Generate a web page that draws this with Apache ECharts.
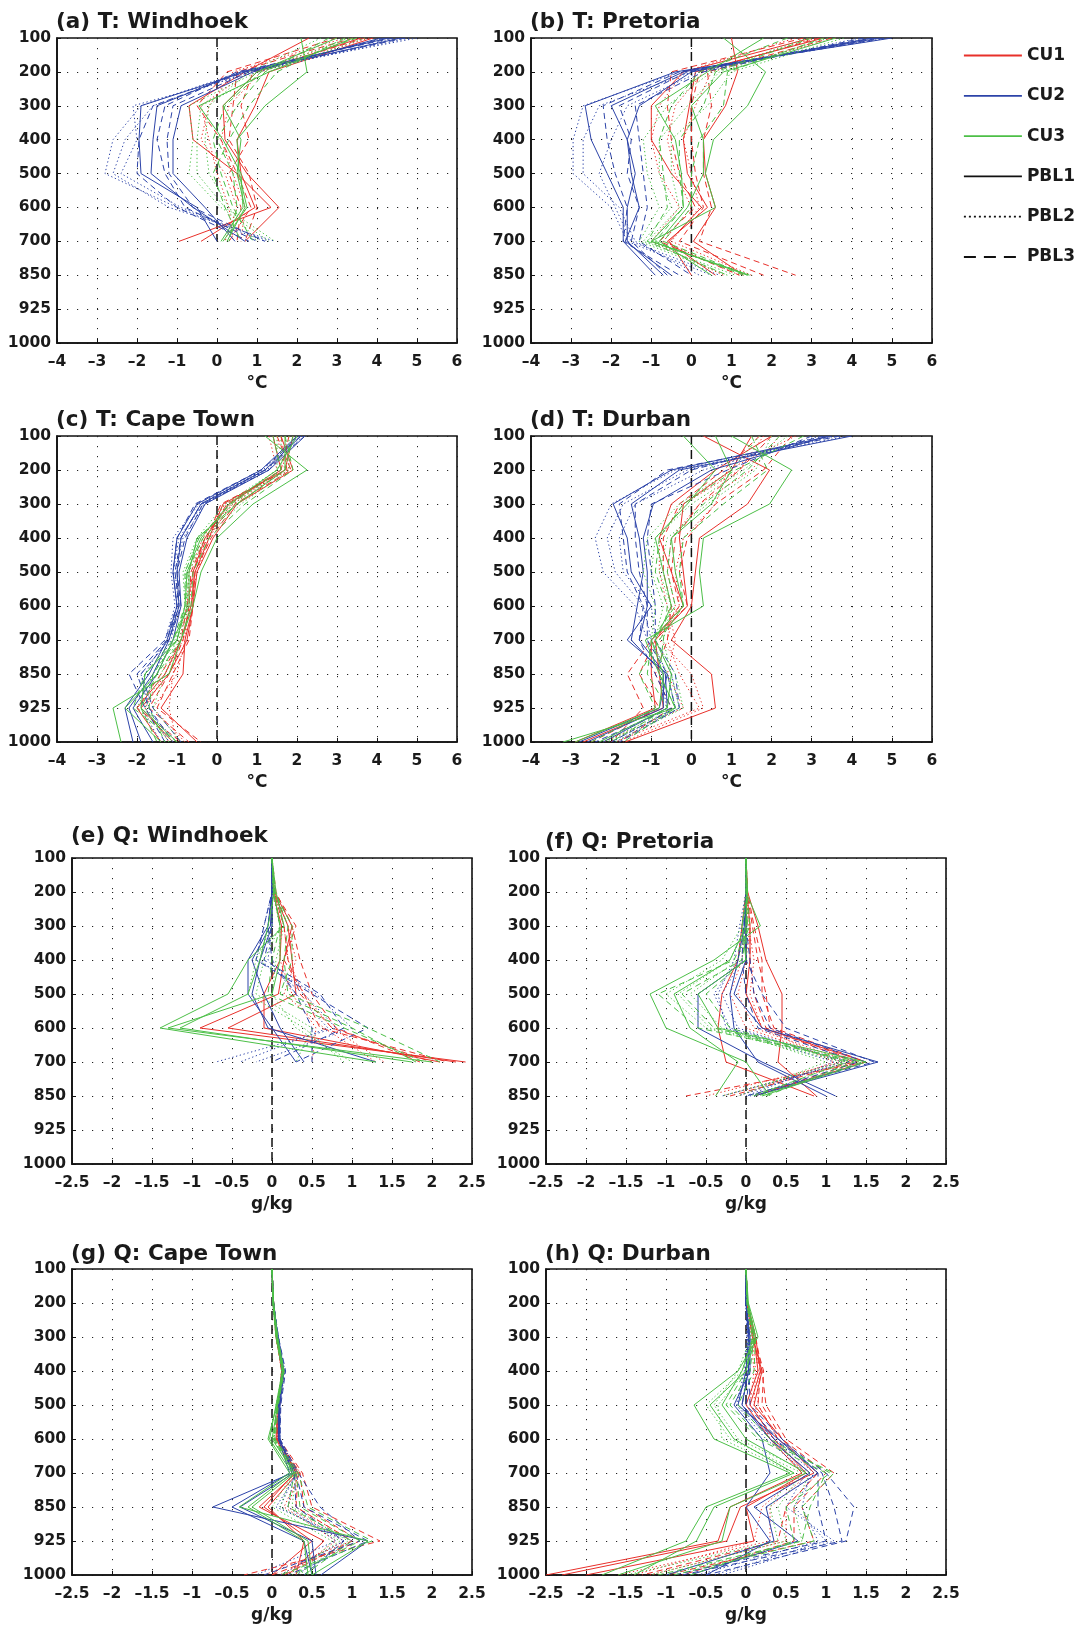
<!DOCTYPE html>
<html><head><meta charset="utf-8">
<script src="https://cdn.jsdelivr.net/npm/echarts@6/dist/echarts.min.js"></script>
<style>html,body{margin:0;padding:0;background:#fff}#chart{width:1081px;height:1627px}</style>
</head><body><div id="chart"></div>
<script>
// ---------------- DATA ----------------
// Pressure levels (hPa), top to bottom
const levels = ['100','200','300','400','500','600','700','850','925','1000'];
// x-axis tick setup
const tTicks = {min: -4, max: 6, step: 1};
const qTicks = {min: -2.5, max: 2.5, step: 0.5};
// Each array: rows = PBL1 x3, PBL2 x3, PBL3 x3 ; columns = levels (top-down)

// (a) T: Windhoek
const aCU1 = [
  [2.3, 0.7, -0.7, -0.6, 0.5, 1.35, -0.95],
  [3.6, 1.0, 0.15, 0.2, 0.75, 1.55, 0.7],
  [3.9, 1.3, 0.95, 0.5, 0.6, 0.95, -0.4],
  [3.2, 0.4, -0.2, -0.4, 0.2, 0.5, 0.2],
  [3.5, 0.8, -0.4, -0.2, 0.0, 0.3, 0.4],
  [3.8, 1.1, 0.3, 0.1, 0.4, 0.7, 0.6],
  [3.0, 0.25, -0.5, 0.1, 0.5, 0.85, 0.3],
  [3.4, 0.5, 0.4, 0.3, 0.8, 1.0, 0.7],
  [3.7, 0.9, 0.6, 0.8, 0.3, 0.6, 0.5]
];
const aCU2 = [
  [4.6, 0.7, -1.9, -1.95, -1.9, -0.5, 0.0],
  [4.3, 0.6, -1.5, -1.6, -1.65, -0.6, 0.7],
  [4.1, 0.9, -0.9, -1.1, -1.1, -0.3, 0.45],
  [5.0, 0.6, -1.9, -2.6, -2.8, -1.0, 1.2],
  [4.8, 0.8, -1.6, -2.3, -2.6, -1.2, 1.45],
  [4.5, 1.0, -2.1, -2.0, -2.4, -0.9, 1.3],
  [4.4, 0.5, -1.3, -1.5, -1.3, -0.8, 1.0],
  [4.2, 0.8, -1.1, -1.25, -1.2, -0.6, 1.2],
  [4.7, 0.7, -1.6, -1.95, -2.0, -1.0, 0.8]
];
const aCU3 = [
  [2.1, 2.25, 1.2, 0.5, 0.55, 0.75, 0.15],
  [3.0, 1.0, 0.15, 0.6, 0.5, 0.7, 0.25],
  [3.4, 1.3, -0.45, 0.15, 0.6, 0.65, 0.1],
  [3.3, 1.0, -0.7, -0.6, -0.7, 0.1, 1.3],
  [3.7, 1.3, -0.4, -0.5, -0.5, 0.2, 1.45],
  [2.6, 0.8, -0.2, -0.3, -0.2, 0.3, 1.0],
  [2.8, 1.2, 0.5, 0.0, 0.4, 0.5, 0.3],
  [3.2, 1.5, 0.8, 0.3, -0.1, 0.2, 0.6],
  [3.5, 1.1, 0.2, -0.1, 0.1, 0.4, 0.9]
];

// (b) T: Pretoria
const bCU1 = [
  [1.0, 1.15, 0.85, 0.3, 0.35, 0.6, 0.05, 1.3],
  [3.0, -0.2, -1.0, -1.0, -0.5, 0.25, -0.55, 0.0],
  [3.3, 0.1, -0.05, -0.2, -0.1, 0.4, -0.6, 0.6],
  [2.6, -0.2, -0.8, -1.0, -0.8, -0.3, -1.0, 0.8],
  [3.1, 0.3, -0.4, -0.6, -0.4, 0.0, -0.7, 1.2],
  [3.6, 0.5, 0.1, -0.2, 0.0, 0.2, -0.5, 1.5],
  [2.8, -0.5, -0.6, -0.5, -0.3, 0.1, -0.8, 1.2],
  [3.2, 0.2, 0.0, 0.0, 0.1, 0.3, -0.3, 1.8],
  [3.5, 0.4, 0.5, 0.3, 0.3, 0.5, 0.2, 2.6]
];
const bCU2 = [
  [5.0, -0.4, -2.65, -2.5, -2.1, -1.7, -1.7, -0.9],
  [4.7, -0.2, -2.0, -1.6, -1.5, -1.3, -1.65, -0.5],
  [4.5, 0.0, -1.3, -1.6, -1.4, -1.6, -1.6, -0.7],
  [4.9, -0.3, -2.7, -2.95, -2.95, -2.0, -1.6, 0.5],
  [4.5, 0.0, -2.3, -2.7, -2.7, -1.8, -1.4, 0.2],
  [4.2, 0.2, -1.6, -2.0, -2.3, -1.9, -1.5, 0.7],
  [4.6, -0.3, -2.2, -2.1, -1.9, -1.6, -1.7, -0.3],
  [4.8, -0.1, -1.8, -1.5, -1.6, -1.3, -1.5, -0.6],
  [4.3, 0.3, -1.4, -1.3, -1.2, -1.1, -1.3, 0.0]
];
const bCU3 = [
  [0.8, 1.85, 1.4, 0.55, 0.35, 0.6, -1.0, 1.45],
  [1.8, 0.4, -0.9, -0.4, -0.25, -0.2, -1.0, 1.4],
  [3.6, 0.8, 0.0, 0.3, 0.3, -0.1, -0.8, 0.5],
  [2.9, 0.5, -0.6, -1.2, -1.1, -0.8, -1.3, 0.9],
  [3.4, 0.7, -0.1, -0.8, -0.8, -0.5, -1.2, 1.1],
  [3.8, 1.0, 0.4, -0.5, -0.5, -0.3, -1.1, 1.5],
  [2.4, 0.2, -0.5, -0.8, -0.7, -0.6, -1.1, 0.9],
  [3.0, 0.6, 0.3, -0.3, -0.3, -0.2, -0.9, 1.3],
  [3.3, 0.9, 0.8, 0.2, 0.0, 0.0, -0.7, 1.4]
];

// (c) T: Cape Town
const cCU1 = [
  [1.6, 1.9, 0.5, -0.1, -0.5, -0.6, -0.8, -0.85, -1.4, -0.5],
  [1.4, 1.6, 0.3, -0.3, -0.6, -0.6, -0.75, -1.2, -1.9, -1.1],
  [1.9, 1.7, 0.15, -0.2, -0.55, -0.65, -0.9, -1.3, -2.0, -1.4],
  [1.5, 1.7, 0.4, -0.25, -0.6, -0.7, -0.8, -1.0, -1.6, -0.8],
  [1.7, 1.8, 0.2, -0.35, -0.7, -0.75, -0.95, -1.1, -1.2, -1.0],
  [1.3, 1.5, 0.35, -0.2, -0.5, -0.65, -0.85, -1.3, -1.8, -1.2],
  [1.5, 1.85, 0.45, -0.15, -0.55, -0.6, -0.7, -1.1, -1.5, -0.4],
  [1.8, 1.6, 0.25, -0.3, -0.65, -0.7, -0.85, -1.2, -1.7, -0.7],
  [1.6, 1.75, 0.1, -0.25, -0.6, -0.75, -0.9, -1.4, -2.0, -0.9]
];
const cCU2 = [
  [2.0, 1.1, -0.5, -1.0, -1.1, -1.0, -1.25, -1.7, -2.3, -2.1],
  [2.1, 1.2, -0.4, -0.9, -1.0, -0.95, -1.2, -1.6, -2.2, -1.9],
  [2.2, 1.3, -0.3, -0.75, -0.95, -0.9, -1.1, -1.5, -2.1, -1.6],
  [2.05, 1.15, -0.45, -1.1, -1.15, -1.05, -1.3, -1.8, -1.9, -1.4],
  [2.15, 1.25, -0.35, -0.95, -1.1, -1.0, -1.2, -1.9, -1.7, -1.2],
  [2.0, 1.2, -0.3, -0.85, -1.05, -0.95, -1.15, -1.6, -1.8, -1.0],
  [2.1, 1.1, -0.55, -1.0, -1.1, -1.0, -1.3, -2.2, -1.8, -1.3],
  [2.2, 1.2, -0.4, -0.9, -1.05, -0.95, -1.25, -2.0, -1.7, -1.1],
  [2.0, 1.3, -0.35, -0.8, -1.0, -0.9, -1.2, -1.9, -1.6, -0.9]
];
const cCU3 = [
  [1.2, 2.25, 0.9, 0.0, -0.4, -0.6, -0.9, -1.2, -2.6, -2.4],
  [1.7, 1.7, 0.5, -0.5, -0.7, -0.7, -1.1, -1.5, -2.3, -1.4],
  [2.0, 1.5, 0.3, -0.4, -0.75, -0.8, -1.0, -1.8, -1.9, -1.0],
  [1.6, 1.6, 0.4, -0.45, -0.8, -0.75, -1.0, -1.4, -1.8, -1.2],
  [1.8, 1.8, 0.6, -0.3, -0.7, -0.7, -0.95, -1.3, -1.6, -0.9],
  [1.5, 1.5, 0.2, -0.5, -0.85, -0.8, -1.05, -1.6, -2.0, -1.1],
  [1.7, 1.9, 0.7, -0.2, -0.6, -0.65, -0.9, -1.5, -1.9, -1.5],
  [1.9, 1.7, 0.5, -0.35, -0.75, -0.75, -1.0, -1.6, -1.7, -1.3],
  [1.4, 1.6, 0.35, -0.45, -0.8, -0.8, -1.1, -1.8, -2.1, -1.0]
];

// (d) T: Durban
const dCU1 = [
  [0.3, 1.95, 1.4, 0.2, 0.1, 0.0, -0.5, 0.5, 0.6, -1.65],
  [1.5, 1.0, -0.2, -0.3, -0.2, -0.1, -0.9, -0.8, -0.7, -2.7],
  [2.0, 0.6, -0.5, -0.8, -0.5, -0.2, -1.0, -1.0, -0.9, -2.9],
  [2.2, 1.5, 0.2, -0.5, -0.6, -0.4, -0.6, -0.3, 0.2, -1.9],
  [1.8, 1.2, -0.2, -0.8, -0.8, -0.6, -0.4, -0.6, -0.2, -2.2],
  [2.6, 0.9, 0.6, -0.2, -0.4, -0.3, -0.8, 0.0, 0.3, -1.7],
  [2.5, 1.8, 0.6, -0.1, -0.3, -0.1, -1.0, -1.6, -1.2, -2.0],
  [2.0, 1.2, 0.2, -0.4, -0.5, -0.3, -0.9, -1.3, -0.8, -2.5],
  [1.7, 0.8, -0.3, -0.7, -0.7, -0.5, -0.6, -0.9, -0.5, -1.8]
];
const dCU2 = [
  [3.5, -0.5, -1.95, -1.6, -1.5, -1.0, -1.6, -0.6, -0.8, -2.8],
  [4.0, -0.3, -1.5, -1.3, -1.2, -1.35, -1.5, -0.7, -0.7, -2.6],
  [3.4, 0.5, -0.95, -1.2, -1.1, -1.1, -1.3, -0.65, -0.6, -2.2],
  [3.9, -0.4, -2.0, -2.4, -2.2, -1.4, -1.1, -0.8, -0.6, -2.3],
  [3.6, -0.1, -1.7, -2.1, -1.9, -1.2, -1.0, -0.6, -0.4, -2.0],
  [3.2, 0.3, -1.4, -1.8, -1.7, -1.0, -0.9, -0.5, -0.3, -1.9],
  [3.7, -0.6, -1.8, -1.7, -1.6, -1.2, -1.3, -0.9, -0.5, -2.4],
  [3.3, 0.0, -1.4, -1.4, -1.3, -1.1, -1.1, -0.6, -0.4, -2.0],
  [3.0, 0.9, -1.0, -1.1, -1.0, -0.9, -0.9, -0.4, -0.3, -1.8]
];
const dCU3 = [
  [1.0, 2.5, 1.95, 0.3, 0.2, 0.3, -1.15, -0.8, -0.4, -3.2],
  [0.6, 1.0, 0.5, -0.5, -0.4, -0.2, -1.0, -0.7, -0.8, -2.9],
  [-0.2, 0.6, -0.1, -0.9, -0.7, -0.5, -0.9, -0.5, -0.6, -2.3],
  [2.0, 1.6, 0.4, -0.6, -0.8, -0.5, -0.7, -0.5, -0.3, -2.1],
  [2.4, 1.3, 0.0, -0.9, -1.0, -0.7, -0.9, -0.4, -0.2, -1.9],
  [1.7, 1.0, -0.3, -1.1, -1.2, -0.9, -1.0, -0.6, -0.4, -2.2],
  [1.5, 1.9, 0.8, -0.2, -0.3, -0.2, -0.8, -1.3, -0.9, -2.5],
  [2.2, 1.4, 0.3, -0.5, -0.6, -0.4, -1.0, -1.1, -0.6, -2.0],
  [2.8, 1.1, -0.2, -0.8, -0.9, -0.6, -0.7, -0.8, -0.4, -1.7]
];

// (e) Q: Windhoek
const eCU1 = [
  [0.0, 0.02, 0.2, 0.25, 0.3, -0.55, 2.3],
  [0.0, 0.03, 0.25, 0.15, 0.08, -0.9, 2.42],
  [0.0, 0.01, 0.12, 0.1, -0.1, -0.1, 2.1],
  [0.0, 0.02, 0.15, 0.2, 0.4, 0.75, 1.4],
  [0.0, 0.01, 0.1, 0.1, 0.25, 0.55, 0.5],
  [0.0, 0.03, 0.2, 0.3, 0.15, 0.65, 1.3],
  [0.0, 0.05, 0.25, 0.35, 0.5, 0.8, 1.85],
  [0.0, 0.02, 0.15, 0.2, 0.35, 0.75, 2.0],
  [0.0, 0.03, 0.3, 0.15, 0.4, 0.6, 2.2]
];
const eCU2 = [
  [0.0, 0.0, -0.05, -0.3, -0.3, 0.0, 0.3],
  [0.0, 0.0, -0.02, -0.25, -0.1, 0.1, 0.4],
  [0.0, 0.0, 0.0, -0.15, -0.25, -0.05, 1.3],
  [0.0, 0.0, -0.05, -0.15, 0.4, 0.8, -0.7],
  [0.0, 0.0, 0.0, -0.05, 0.3, 0.7, -0.4],
  [0.0, 0.0, -0.1, -0.2, 0.55, 1.0, -0.2],
  [0.0, 0.0, -0.1, -0.2, 0.5, 1.2, 0.3],
  [0.0, 0.0, 0.0, -0.1, 0.6, 0.9, 0.0],
  [0.0, 0.0, -0.05, 0.0, 0.3, 0.5, 0.5]
];
const eCU3 = [
  [0.0, 0.05, 0.15, -0.3, -0.55, -1.4, 1.3],
  [0.0, 0.03, -0.05, -0.15, -0.3, -1.15, 1.75],
  [0.0, 0.02, 0.1, 0.1, 0.0, -1.3, 2.0],
  [0.0, 0.02, 0.1, -0.1, -0.2, 0.5, 0.3],
  [0.0, 0.01, 0.0, -0.2, -0.3, 0.4, 0.9],
  [0.0, 0.03, 0.15, 0.05, 0.0, 0.3, 1.0],
  [0.0, 0.04, 0.2, 0.15, 0.2, 1.2, 2.1],
  [0.0, 0.02, 0.1, 0.0, -0.05, 0.9, 1.9],
  [0.0, 0.03, 0.25, 0.25, 0.1, 1.0, 1.8]
];

// (f) Q: Pretoria
const fCU1 = [
  [0.0, 0.02, 0.15, 0.25, 0.45, 0.45, 0.4, 0.88],
  [0.0, 0.0, -0.05, -0.1, -0.3, -0.35, -0.25, 0.85],
  [0.0, 0.01, 0.05, 0.05, 0.0, 0.2, 1.5, 0.1],
  [0.0, 0.0, 0.0, -0.05, -0.2, 0.0, 1.2, -0.5],
  [0.0, 0.01, 0.05, 0.0, -0.1, 0.1, 1.3, -0.3],
  [0.0, 0.0, 0.03, 0.1, 0.05, 0.2, 1.1, -0.1],
  [0.0, 0.02, 0.1, 0.2, 0.2, 0.35, 1.5, -0.75],
  [0.0, 0.01, 0.08, 0.15, 0.25, 0.3, 1.4, 0.1],
  [0.0, 0.0, 0.05, 0.05, 0.1, 0.25, 1.35, -0.2]
];
const fCU2 = [
  [0.0, 0.0, 0.0, 0.0, -0.6, -0.6, 0.2, 1.12],
  [0.0, 0.0, -0.02, -0.1, -0.2, -0.15, 0.15, 1.0],
  [0.0, 0.0, 0.0, 0.0, -0.15, 0.2, 1.65, 0.1],
  [0.0, 0.0, -0.05, -0.1, -0.4, -0.2, 1.3, -0.3],
  [0.0, 0.0, -0.03, -0.05, -0.3, -0.1, 1.2, -0.1],
  [0.0, 0.0, -0.08, -0.15, -0.35, -0.25, 1.1, 0.0],
  [0.0, 0.0, -0.02, 0.0, 0.2, 0.5, 1.6, 0.0],
  [0.0, 0.0, 0.0, 0.05, 0.1, 0.3, 1.5, 0.1],
  [0.0, 0.0, -0.03, -0.05, 0.0, 0.15, 1.4, 0.05]
];
const fCU3 = [
  [0.0, 0.0, 0.18, -0.4, -1.2, -1.0, 0.0, 0.3],
  [0.0, 0.01, 0.0, -0.2, -0.9, -0.7, -0.1, -0.38],
  [0.0, 0.02, -0.05, 0.0, -0.6, -0.35, 1.5, 0.2],
  [0.0, 0.0, -0.05, -0.3, -1.0, -0.5, 1.2, -0.3],
  [0.0, 0.01, 0.0, -0.2, -0.85, -0.45, 1.3, 0.05],
  [0.0, 0.0, 0.02, -0.1, -0.7, -0.3, 1.0, -0.1],
  [0.0, 0.01, 0.05, -0.15, -1.1, -0.6, 1.45, 0.15],
  [0.0, 0.0, 0.02, -0.05, -0.8, -0.4, 1.35, 0.25],
  [0.0, 0.01, 0.0, 0.0, -0.5, -0.2, 1.25, 0.1]
];

// (g) Q: Cape Town
const gCU1 = [
  [0.0, 0.02, 0.06, 0.12, 0.08, 0.08, 0.3, -0.16, 0.65, 0.2],
  [0.0, 0.02, 0.05, 0.13, 0.07, 0.05, 0.28, -0.1, 0.5, 0.0],
  [0.0, 0.01, 0.07, 0.12, 0.09, 0.06, 0.32, -0.05, 0.4, 0.3],
  [0.0, 0.02, 0.06, 0.14, 0.08, 0.07, 0.33, 0.2, 0.9, 0.1],
  [0.0, 0.01, 0.07, 0.13, 0.07, 0.06, 0.3, 0.3, 1.0, -0.1],
  [0.0, 0.02, 0.05, 0.12, 0.09, 0.08, 0.35, 0.15, 0.8, 0.2],
  [0.0, 0.02, 0.07, 0.15, 0.1, 0.09, 0.38, 0.5, 1.35, -0.35],
  [0.0, 0.02, 0.06, 0.14, 0.08, 0.07, 0.35, 0.4, 1.1, 0.0],
  [0.0, 0.01, 0.05, 0.13, 0.07, 0.06, 0.33, 0.3, 1.0, 0.15]
];
const gCU2 = [
  [0.0, 0.02, 0.07, 0.14, 0.09, 0.1, 0.25, -0.74, 1.2, 0.61],
  [0.0, 0.02, 0.06, 0.13, 0.08, 0.08, 0.22, -0.5, 0.4, 0.5],
  [0.0, 0.01, 0.08, 0.15, 0.1, 0.09, 0.27, -0.4, 0.5, 0.55],
  [0.0, 0.02, 0.07, 0.15, 0.09, 0.09, 0.3, 0.1, 0.9, 0.1],
  [0.0, 0.01, 0.06, 0.14, 0.08, 0.08, 0.28, 0.2, 0.8, -0.2],
  [0.0, 0.02, 0.08, 0.16, 0.1, 0.1, 0.32, 0.05, 1.0, 0.3],
  [0.0, 0.02, 0.08, 0.17, 0.11, 0.1, 0.33, 0.6, 1.1, -0.1],
  [0.0, 0.02, 0.07, 0.15, 0.09, 0.09, 0.3, 0.4, 1.2, 0.2],
  [0.0, 0.01, 0.06, 0.14, 0.08, 0.08, 0.28, 0.3, 0.9, 0.4]
];
const gCU3 = [
  [0.0, 0.02, 0.06, 0.14, 0.06, -0.05, 0.22, -0.41, 1.2, 0.5],
  [0.0, 0.01, 0.05, 0.13, 0.05, -0.03, 0.25, -0.3, 0.4, 0.45],
  [0.0, 0.02, 0.07, 0.15, 0.07, 0.0, 0.28, -0.25, 0.45, 0.5],
  [0.0, 0.01, 0.06, 0.13, 0.06, 0.02, 0.26, 0.1, 0.85, 0.2],
  [0.0, 0.02, 0.05, 0.14, 0.05, 0.03, 0.3, 0.25, 0.95, 0.3],
  [0.0, 0.01, 0.07, 0.12, 0.07, 0.01, 0.27, 0.0, 0.75, 0.35],
  [0.0, 0.02, 0.07, 0.15, 0.08, 0.04, 0.33, 0.45, 1.25, 0.1],
  [0.0, 0.01, 0.06, 0.14, 0.06, 0.03, 0.3, 0.35, 1.1, 0.25],
  [0.0, 0.02, 0.05, 0.13, 0.07, 0.02, 0.28, 0.2, 1.0, 0.4]
];

// (h) Q: Durban
const hCU1 = [
  [0.0, 0.02, 0.1, 0.15, 0.0, 0.3, 0.7, -0.2, -0.35, -2.5],
  [0.0, 0.01, 0.08, 0.2, 0.1, 0.45, 0.85, -0.07, -0.24, -2.3],
  [0.0, 0.02, 0.12, 0.18, 0.05, 0.35, 0.75, 0.0, 0.1, -2.0],
  [0.0, 0.01, 0.08, 0.12, 0.1, 0.3, 0.8, 0.3, 0.3, -1.6],
  [0.0, 0.02, 0.1, 0.15, 0.15, 0.4, 0.9, 0.5, 0.5, -1.2],
  [0.0, 0.01, 0.06, 0.1, 0.05, 0.35, 0.7, 0.2, 0.1, -1.4],
  [0.0, 0.02, 0.12, 0.2, 0.25, 0.5, 1.1, 0.7, 0.85, -1.0],
  [0.0, 0.01, 0.1, 0.22, 0.2, 0.45, 1.0, 0.6, 0.6, -0.8],
  [0.0, 0.02, 0.09, 0.18, 0.15, 0.4, 0.9, 0.5, 0.4, -1.3]
];
const hCU2 = [
  [0.0, 0.0, 0.05, 0.05, -0.15, 0.2, 0.3, 0.0, 0.3, -0.5],
  [0.0, 0.0, 0.03, 0.0, -0.1, 0.4, 0.9, 0.25, 0.35, -1.0],
  [0.0, 0.0, 0.04, 0.03, -0.05, 0.3, 0.8, 0.1, 0.65, -0.7],
  [0.0, 0.0, 0.02, 0.0, -0.1, 0.3, 0.8, 0.7, 0.9, -0.6],
  [0.0, 0.0, 0.03, 0.02, -0.05, 0.35, 0.85, 0.6, 1.0, -0.4],
  [0.0, 0.0, 0.01, -0.02, -0.12, 0.25, 0.75, 0.5, 1.1, -0.3],
  [0.0, 0.0, 0.04, 0.05, 0.0, 0.4, 1.0, 1.35, 1.25, -0.5],
  [0.0, 0.0, 0.03, 0.03, -0.05, 0.35, 0.95, 1.1, 1.2, -0.8],
  [0.0, 0.0, 0.05, 0.04, 0.05, 0.45, 0.9, 0.9, 1.0, -0.9]
];
const hCU3 = [
  [0.0, 0.03, 0.15, -0.1, -0.65, -0.4, 0.55, -0.5, -0.75, -1.8],
  [0.0, 0.02, 0.12, 0.0, -0.45, -0.15, 0.6, -0.4, -0.62, -1.4],
  [0.0, 0.02, 0.1, -0.05, -0.3, 0.0, 0.75, -0.2, -0.3, -1.6],
  [0.0, 0.02, 0.08, -0.05, -0.5, -0.2, 0.7, 0.4, 0.5, -1.2],
  [0.0, 0.01, 0.06, -0.1, -0.4, -0.1, 0.8, 0.6, 0.7, -1.0],
  [0.0, 0.02, 0.1, 0.0, -0.35, -0.3, 0.6, 0.3, 0.4, -1.5],
  [0.0, 0.02, 0.1, 0.05, -0.2, 0.2, 1.1, 0.7, 0.85, -0.9],
  [0.0, 0.01, 0.08, 0.0, -0.25, 0.15, 1.0, 0.8, 0.7, -1.1],
  [0.0, 0.02, 0.12, 0.1, -0.1, 0.3, 1.05, 0.5, 0.6, -0.7]
];

// Lowest level reached by the zero reference line in each panel
const zeroLineBottom = ['700', '850', '1000', '1000', '1000', '1000', '1000', '1000'];
const panelTitles = ['(a) T: Windhoek', '(b) T: Pretoria', '(c) T: Cape Town', '(d) T: Durban',
                     '(e) Q: Windhoek', '(f) Q: Pretoria', '(g) Q: Cape Town', '(h) Q: Durban'];
const cuNames = ['CU1', 'CU2', 'CU3'];
const pblNames = ['PBL1', 'PBL2', 'PBL3'];

// ---------------- LAYOUT / STYLE ----------------
const FONT = 'DejaVu Sans';
const TXT = '#1a1a1a';
const cuColors = ['#e8302a', '#2c43a8', '#4cbf47'];
const pblDash = ['solid', [1.3, 2.6], [6, 4]];
const panelData = [[aCU1,aCU2,aCU3],[bCU1,bCU2,bCU3],[cCU1,cCU2,cCU3],[dCU1,dCU2,dCU3],
                   [eCU1,eCU2,eCU3],[fCU1,fCU2,fCU3],[gCU1,gCU2,gCU3],[hCU1,hCU2,hCU3]];
const layout = [
  {left: 57, top: 38, width: 400, height: 305, titleY: 23},
  {left: 531, top: 38, width: 401, height: 305, titleY: 23},
  {left: 57, top: 436, width: 400, height: 306, titleY: 421},
  {left: 531, top: 436, width: 401, height: 306, titleY: 421},
  {left: 72, top: 858, width: 400, height: 306, titleY: 837},
  {left: 546, top: 858, width: 400, height: 306, titleY: 843},
  {left: 72, top: 1269, width: 400, height: 306, titleY: 1255},
  {left: 546, top: 1269, width: 400, height: 306, titleY: 1255}
];

const fmtTick = v => {
  const r = Math.round(v * 10) / 10;
  return r < 0 ? '\u2013' + String(-r) : String(r);
};

const grids = [], xAxes = [], yAxes = [], titles = [], series = [];
const dotted = [1.2, 8.8];

layout.forEach((L, p) => {
  const isT = p < 4;
  const tk = isT ? tTicks : qTicks;
  grids.push({left: L.left, top: L.top, width: L.width, height: L.height, show: true,
              borderColor: '#111', borderWidth: 1.6, containLabel: false});
  xAxes.push({
    gridIndex: p, type: 'value', min: tk.min, max: tk.max, interval: tk.step,
    name: isT ? '°C' : 'g/kg', nameLocation: 'middle', nameGap: 32,
    nameTextStyle: {fontFamily: FONT, fontWeight: 'bold', fontSize: 17, color: TXT},
    axisLine: {show: true, onZero: false, lineStyle: {color: '#111', width: 1.6}},
    axisTick: {show: true, inside: true, length: 4, lineStyle: {color: '#111'}},
    axisLabel: {fontFamily: FONT, fontWeight: 'bold', fontSize: 15.5, color: TXT, margin: 11,
                formatter: fmtTick, showMinLabel: true, showMaxLabel: true, hideOverlap: false},
    splitLine: {show: true, lineStyle: {color: '#222', width: 1, type: dotted}}
  });
  yAxes.push({
    gridIndex: p, type: 'category', data: levels, inverse: true, boundaryGap: false,
    axisLine: {show: true, onZero: false, lineStyle: {color: '#111', width: 1.6}},
    axisTick: {show: true, inside: true, length: 4, lineStyle: {color: '#111'}},
    axisLabel: {fontFamily: FONT, fontWeight: 'bold', fontSize: 15.5, color: TXT, margin: 6, interval: 0},
    splitLine: {show: true, interval: 0, lineStyle: {color: '#222', width: 1, type: dotted}}
  });
  titles.push({text: panelTitles[p], left: L.left - 1, top: L.titleY - 12, padding: 0,
               textStyle: {fontFamily: FONT, fontWeight: 'bold', fontSize: 21.5, color: TXT}});
  // zero reference line
  series.push({
    type: 'line', name: 'zero-' + p, xAxisIndex: p, yAxisIndex: p, silent: true,
    symbol: 'none', z: 1,
    lineStyle: {color: '#111', width: 1.5, type: [9, 5]},
    data: [[0, levels[0]], [0, zeroLineBottom[p]]]
  });
  panelData[p].forEach((cuRows, c) => {
    cuRows.forEach((row, r) => {
      const pbl = Math.floor(r / 3);
      series.push({
        type: 'line', name: panelTitles[p] + ' ' + cuNames[c] + ' ' + pblNames[pbl] + ' #' + (r % 3 + 1),
        xAxisIndex: p, yAxisIndex: p, symbol: 'none', silent: true, z: 2,
        lineStyle: {color: cuColors[c], width: 1, type: pblDash[pbl]},
        data: row.map((v, i) => [v, levels[i]])
      });
    });
  });
});

// legend proxy series (no data)
const legendItems = [
  {name: 'CU1', color: cuColors[0], type: 'solid'},
  {name: 'CU2', color: cuColors[1], type: 'solid'},
  {name: 'CU3', color: cuColors[2], type: 'solid'},
  {name: 'PBL1', color: '#111', type: 'solid'},
  {name: 'PBL2', color: '#111', type: [2, 3]},
  {name: 'PBL3', color: '#111', type: [12, 8]}
];
legendItems.forEach(it => {
  series.push({type: 'line', name: it.name, xAxisIndex: 1, yAxisIndex: 1, symbol: 'none', data: [],
               itemStyle: {color: it.color}, lineStyle: {color: it.color, width: 1.8, type: it.type}});
});

const chart = echarts.init(document.getElementById('chart'), null, {renderer: 'canvas'});
chart.setOption({
  animation: false,
  backgroundColor: '#fff',
  textStyle: {fontFamily: FONT},
  title: titles,
  grid: grids,
  xAxis: xAxes,
  yAxis: yAxes,
  legend: {
    orient: 'vertical', left: 963, top: 47, itemWidth: 58, itemHeight: 14, itemGap: 23.3,
    selectedMode: false, padding: 0,
    itemStyle: {opacity: 0},
    textStyle: {fontFamily: FONT, fontWeight: 'bold', fontSize: 17, color: TXT},
    data: legendItems.map(it => ({name: it.name, lineStyle: {color: it.color, width: 1.8, type: it.type}}))
  },
  series: series
});
</script></body></html>
